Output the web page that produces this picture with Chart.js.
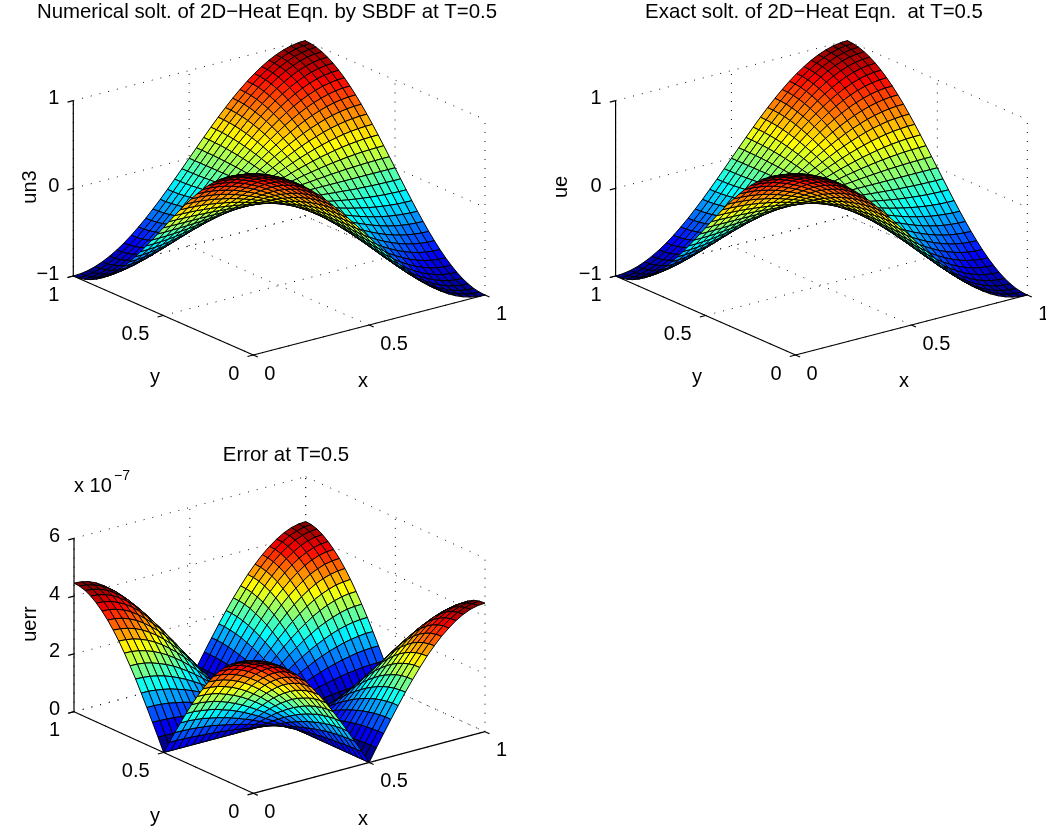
<!DOCTYPE html>
<html>
<head>
<meta charset="utf-8">
<title>2D Heat Eqn</title>
<script src="https://cdn.jsdelivr.net/npm/chart.js@4"></script>
<style>
  html, body { margin: 0; background: #fff; }
  canvas { position: absolute; }
</style>
</head>
<body>
<canvas id="plotNum" width="530" height="410" style="left:0;top:0"></canvas>
<canvas id="plotExact" width="516" height="410" style="left:530px;top:0"></canvas>
<canvas id="plotErr" width="530" height="417" style="left:0;top:410px"></canvas>
<script>
const meshX = [0,0.03125,0.0625,0.09375,0.125,0.15625,0.1875,0.21875,0.25,0.28125,0.3125,0.34375,0.375,0.40625,0.4375,0.46875,0.5,0.53125,0.5625,0.59375,0.625,0.65625,0.6875,0.71875,0.75,0.78125,0.8125,0.84375,0.875,0.90625,0.9375,0.96875,1];
const meshY = meshX;
const xyTicks = [0, 0.5, 1];
const xyTickText = ['0', '0.5', '1'];
const heatZTicks = [-1, 0, 1];
const heatZTickText = ['\u22121', '0', '1'];
const errZTicks = [0, 2, 4, 6];
const errZTickText = ['0', '2', '4', '6'];

// surface heights, in thousandths
const un3 = [
[1000,995,981,957,924,882,831,773,707,634,556,471,383,290,195,98,0,-98,-195,-290,-383,-471,-556,-634,-707,-773,-831,-882,-924,-957,-981,-995,-1000],
[995,990,976,952,919,878,827,769,704,631,553,469,381,289,194,98,0,-98,-194,-289,-381,-469,-553,-631,-704,-769,-827,-878,-919,-952,-976,-990,-995],
[981,976,962,939,906,865,815,758,694,622,545,462,375,285,191,96,0,-96,-191,-285,-375,-462,-545,-622,-694,-758,-815,-865,-906,-939,-962,-976,-981],
[957,952,939,916,884,844,796,740,677,607,532,451,366,278,187,94,0,-94,-187,-278,-366,-451,-532,-607,-677,-740,-796,-844,-884,-916,-939,-952,-957],
[924,919,906,884,854,815,768,714,653,586,513,436,354,268,180,91,0,-91,-180,-268,-354,-436,-513,-586,-653,-714,-768,-815,-854,-884,-906,-919,-924],
[882,878,865,844,815,778,733,682,624,559,490,416,337,256,172,86,0,-86,-172,-256,-337,-416,-490,-559,-624,-682,-733,-778,-815,-844,-865,-878,-882],
[831,827,815,796,768,733,691,643,588,527,462,392,318,241,162,82,0,-82,-162,-241,-318,-392,-462,-527,-588,-643,-691,-733,-768,-796,-815,-827,-831],
[773,769,758,740,714,682,643,598,547,490,429,364,296,224,151,76,0,-76,-151,-224,-296,-364,-429,-490,-547,-598,-643,-682,-714,-740,-758,-769,-773],
[707,704,694,677,653,624,588,547,500,449,393,333,271,205,138,69,0,-69,-138,-205,-271,-333,-393,-449,-500,-547,-588,-624,-653,-677,-694,-704,-707],
[634,631,622,607,586,559,527,490,449,402,352,299,243,184,124,62,0,-62,-124,-184,-243,-299,-352,-402,-449,-490,-527,-559,-586,-607,-622,-631,-634],
[556,553,545,532,513,490,462,429,393,352,309,262,213,161,108,54,0,-54,-108,-161,-213,-262,-309,-352,-393,-429,-462,-490,-513,-532,-545,-553,-556],
[471,469,462,451,436,416,392,364,333,299,262,222,180,137,92,46,0,-46,-92,-137,-180,-222,-262,-299,-333,-364,-392,-416,-436,-451,-462,-469,-471],
[383,381,375,366,354,337,318,296,271,243,213,180,146,111,75,38,0,-38,-75,-111,-146,-180,-213,-243,-271,-296,-318,-337,-354,-366,-375,-381,-383],
[290,289,285,278,268,256,241,224,205,184,161,137,111,84,57,28,0,-28,-57,-84,-111,-137,-161,-184,-205,-224,-241,-256,-268,-278,-285,-289,-290],
[195,194,191,187,180,172,162,151,138,124,108,92,75,57,38,19,0,-19,-38,-57,-75,-92,-108,-124,-138,-151,-162,-172,-180,-187,-191,-194,-195],
[98,98,96,94,91,86,82,76,69,62,54,46,38,28,19,10,0,-10,-19,-28,-38,-46,-54,-62,-69,-76,-82,-86,-91,-94,-96,-98,-98],
[0,0,0,0,0,0,0,0,0,0,0,0,0,0,0,0,0,0,0,0,0,0,0,0,0,0,0,0,0,0,0,0,0],
[-98,-98,-96,-94,-91,-86,-82,-76,-69,-62,-54,-46,-38,-28,-19,-10,0,10,19,28,38,46,54,62,69,76,82,86,91,94,96,98,98],
[-195,-194,-191,-187,-180,-172,-162,-151,-138,-124,-108,-92,-75,-57,-38,-19,0,19,38,57,75,92,108,124,138,151,162,172,180,187,191,194,195],
[-290,-289,-285,-278,-268,-256,-241,-224,-205,-184,-161,-137,-111,-84,-57,-28,0,28,57,84,111,137,161,184,205,224,241,256,268,278,285,289,290],
[-383,-381,-375,-366,-354,-337,-318,-296,-271,-243,-213,-180,-146,-111,-75,-38,0,38,75,111,146,180,213,243,271,296,318,337,354,366,375,381,383],
[-471,-469,-462,-451,-436,-416,-392,-364,-333,-299,-262,-222,-180,-137,-92,-46,0,46,92,137,180,222,262,299,333,364,392,416,436,451,462,469,471],
[-556,-553,-545,-532,-513,-490,-462,-429,-393,-352,-309,-262,-213,-161,-108,-54,0,54,108,161,213,262,309,352,393,429,462,490,513,532,545,553,556],
[-634,-631,-622,-607,-586,-559,-527,-490,-449,-402,-352,-299,-243,-184,-124,-62,0,62,124,184,243,299,352,402,449,490,527,559,586,607,622,631,634],
[-707,-704,-694,-677,-653,-624,-588,-547,-500,-449,-393,-333,-271,-205,-138,-69,0,69,138,205,271,333,393,449,500,547,588,624,653,677,694,704,707],
[-773,-769,-758,-740,-714,-682,-643,-598,-547,-490,-429,-364,-296,-224,-151,-76,0,76,151,224,296,364,429,490,547,598,643,682,714,740,758,769,773],
[-831,-827,-815,-796,-768,-733,-691,-643,-588,-527,-462,-392,-318,-241,-162,-82,0,82,162,241,318,392,462,527,588,643,691,733,768,796,815,827,831],
[-882,-878,-865,-844,-815,-778,-733,-682,-624,-559,-490,-416,-337,-256,-172,-86,0,86,172,256,337,416,490,559,624,682,733,778,815,844,865,878,882],
[-924,-919,-906,-884,-854,-815,-768,-714,-653,-586,-513,-436,-354,-268,-180,-91,0,91,180,268,354,436,513,586,653,714,768,815,854,884,906,919,924],
[-957,-952,-939,-916,-884,-844,-796,-740,-677,-607,-532,-451,-366,-278,-187,-94,0,94,187,278,366,451,532,607,677,740,796,844,884,916,939,952,957],
[-981,-976,-962,-939,-906,-865,-815,-758,-694,-622,-545,-462,-375,-285,-191,-96,0,96,191,285,375,462,545,622,694,758,815,865,906,939,962,976,981],
[-995,-990,-976,-952,-919,-878,-827,-769,-704,-631,-553,-469,-381,-289,-194,-98,0,98,194,289,381,469,553,631,704,769,827,878,919,952,976,990,995],
[-1000,-995,-981,-957,-924,-882,-831,-773,-707,-634,-556,-471,-383,-290,-195,-98,0,98,195,290,383,471,556,634,707,773,831,882,924,957,981,995,1000]
];
// the exact solution looks the same as the numerical one at this scale
const ue = un3;

// error surface, in units of 1e-9
const uerr = [
[445,443,437,426,411,392,370,344,315,282,247,210,170,129,87,44,0,44,87,129,170,210,247,282,315,344,370,392,411,426,437,443,445],
[443,441,434,424,409,391,368,342,313,281,246,209,170,129,86,44,0,44,86,129,170,209,246,281,313,342,368,391,409,424,434,441,443],
[437,434,428,418,403,385,363,337,309,277,243,206,167,127,85,43,0,43,85,127,167,206,243,277,309,337,363,385,403,418,428,434,437],
[426,424,418,408,393,376,354,329,301,270,237,201,163,124,83,42,0,42,83,124,163,201,237,270,301,329,354,376,393,408,418,424,426],
[411,409,403,393,380,363,342,318,291,261,228,194,158,119,80,40,0,40,80,119,158,194,228,261,291,318,342,363,380,393,403,409,411],
[392,391,385,376,363,346,326,303,278,249,218,185,150,114,77,38,0,38,77,114,150,185,218,249,278,303,326,346,363,376,385,391,392],
[370,368,363,354,342,326,307,286,262,235,206,174,142,107,72,36,0,36,72,107,142,174,206,235,262,286,307,326,342,354,363,368,370],
[344,342,337,329,318,303,286,266,243,218,191,162,132,100,67,34,0,34,67,100,132,162,191,218,243,266,286,303,318,329,337,342,344],
[315,313,309,301,291,278,262,243,223,200,175,148,121,91,61,31,0,31,61,91,121,148,175,200,223,243,262,278,291,301,309,313,315],
[282,281,277,270,261,249,235,218,200,179,157,133,108,82,55,28,0,28,55,82,108,133,157,179,200,218,235,249,261,270,277,281,282],
[247,246,243,237,228,218,206,191,175,157,138,117,95,72,48,24,0,24,48,72,95,117,138,157,175,191,206,218,228,237,243,246,247],
[210,209,206,201,194,185,174,162,148,133,117,99,80,61,41,20,0,20,41,61,80,99,117,133,148,162,174,185,194,201,206,209,210],
[170,170,167,163,158,150,142,132,121,108,95,80,65,49,33,17,0,17,33,49,65,80,95,108,121,132,142,150,158,163,167,170,170],
[129,129,127,124,119,114,107,100,91,82,72,61,49,37,25,12,0,12,25,37,49,61,72,82,91,100,107,114,119,124,127,129,129],
[87,86,85,83,80,77,72,67,61,55,48,41,33,25,17,8,0,8,17,25,33,41,48,55,61,67,72,77,80,83,85,86,87],
[44,44,43,42,40,38,36,34,31,28,24,20,17,12,8,4,0,4,8,12,17,20,24,28,31,34,36,38,40,42,43,44,44],
[0,0,0,0,0,0,0,0,0,0,0,0,0,0,0,0,0,0,0,0,0,0,0,0,0,0,0,0,0,0,0,0,0],
[44,44,43,42,40,38,36,34,31,28,24,20,17,12,8,4,0,4,8,12,17,20,24,28,31,34,36,38,40,42,43,44,44],
[87,86,85,83,80,77,72,67,61,55,48,41,33,25,17,8,0,8,17,25,33,41,48,55,61,67,72,77,80,83,85,86,87],
[129,129,127,124,119,114,107,100,91,82,72,61,49,37,25,12,0,12,25,37,49,61,72,82,91,100,107,114,119,124,127,129,129],
[170,170,167,163,158,150,142,132,121,108,95,80,65,49,33,17,0,17,33,49,65,80,95,108,121,132,142,150,158,163,167,170,170],
[210,209,206,201,194,185,174,162,148,133,117,99,80,61,41,20,0,20,41,61,80,99,117,133,148,162,174,185,194,201,206,209,210],
[247,246,243,237,228,218,206,191,175,157,138,117,95,72,48,24,0,24,48,72,95,117,138,157,175,191,206,218,228,237,243,246,247],
[282,281,277,270,261,249,235,218,200,179,157,133,108,82,55,28,0,28,55,82,108,133,157,179,200,218,235,249,261,270,277,281,282],
[315,313,309,301,291,278,262,243,223,200,175,148,121,91,61,31,0,31,61,91,121,148,175,200,223,243,262,278,291,301,309,313,315],
[344,342,337,329,318,303,286,266,243,218,191,162,132,100,67,34,0,34,67,100,132,162,191,218,243,266,286,303,318,329,337,342,344],
[370,368,363,354,342,326,307,286,262,235,206,174,142,107,72,36,0,36,72,107,142,174,206,235,262,286,307,326,342,354,363,368,370],
[392,391,385,376,363,346,326,303,278,249,218,185,150,114,77,38,0,38,77,114,150,185,218,249,278,303,326,346,363,376,385,391,392],
[411,409,403,393,380,363,342,318,291,261,228,194,158,119,80,40,0,40,80,119,158,194,228,261,291,318,342,363,380,393,403,409,411],
[426,424,418,408,393,376,354,329,301,270,237,201,163,124,83,42,0,42,83,124,163,201,237,270,301,329,354,376,393,408,418,424,426],
[437,434,428,418,403,385,363,337,309,277,243,206,167,127,85,43,0,43,85,127,167,206,243,277,309,337,363,385,403,418,428,434,437],
[443,441,434,424,409,391,368,342,313,281,246,209,170,129,86,44,0,44,86,129,170,209,246,281,313,342,368,391,409,424,434,441,443],
[445,443,437,426,411,392,370,344,315,282,247,210,170,129,87,44,0,44,87,129,170,210,247,282,315,344,370,392,411,426,437,443,445]
];

const FONT = '"Liberation Sans", Arial, sans-serif';
const TITLE_SIZE = 20.4;
const LABEL_SIZE = 20;

// jet colormap, 64 steps like the original figure
function jetColor(t) {
  const idx = Math.max(0, Math.min(63, Math.floor(t * 64)));
  const v = (idx + 1) / 64;
  const ch = c => Math.round(255 * Math.max(0, Math.min(1, 1.5 - Math.abs(4 * v - c))));
  return `rgb(${ch(3)},${ch(2)},${ch(1)})`;
}

// 3D box to page pixels; the chart scales below run in page pixels
function project(box, x, y, z) {
  return {
    x: box.front[0] + x * box.xVec[0] + y * box.yVec[0],
    y: box.front[1] + x * box.xVec[1] + y * box.yVec[1] - (z - box.zTicks[0]) * box.zScale
  };
}

function lineSet(points, dash, color, width) {
  return {
    data: points,
    showLine: true,
    fill: false,
    pointRadius: 0,
    borderColor: color,
    borderWidth: width,
    borderDash: dash
  };
}

function boxDatasets(box) {
  const zLo = box.zTicks[0];
  const zHi = box.zTicks[box.zTicks.length - 1];
  const sets = [];
  const p = (x, y, z) => project(box, x, y, z);
  const solid = (a, b) => sets.push(lineSet([a, b], [], '#000', 1.2));
  const dotted = (a, b) => sets.push(lineSet([a, b], [1, 8], '#111', 1));

  solid(p(0, 0, zLo), p(1, 0, zLo));
  solid(p(0, 0, zLo), p(0, 1, zLo));
  solid(p(0, 1, zLo), p(0, 1, zHi));
  xyTicks.forEach(t => {
    solid(p(t, 0, zLo), p(t, -0.025, zLo));
    solid(p(0, t, zLo), p(-0.025, t, zLo));
    dotted(p(t, 0, zLo), p(t, 1, zLo));
    dotted(p(0, t, zLo), p(1, t, zLo));
    dotted(p(t, 1, zLo), p(t, 1, zHi));
    dotted(p(1, t, zLo), p(1, t, zHi));
  });
  box.zTicks.forEach(t => {
    solid(p(0, 1, t), p(-0.025, 1, t));
    dotted(p(0, 1, t), p(1, 1, t));
    dotted(p(1, 1, t), p(1, 0, t));
  });
  return sets;
}

function surfaceDatasets(box) {
  const sets = [];
  const zAt = (i, j) => box.surface[j][i] * box.unit;
  // first dataset is painted last, so start at the front corner
  for (let j = 0; j < meshY.length - 1; j++) {
    for (let i = 0; i < meshX.length - 1; i++) {
      const corners = [[i, j], [i + 1, j], [i + 1, j + 1], [i, j + 1], [i, j]];
      sets.push({
        data: corners.map(c => project(box, meshX[c[0]], meshY[c[1]], zAt(c[0], c[1]))),
        showLine: true,
        fill: 'shape',
        pointRadius: 0,
        backgroundColor: jetColor((zAt(i, j) - box.cLim[0]) / (box.cLim[1] - box.cLim[0])),
        borderColor: '#000',
        borderWidth: 1
      });
    }
  }
  return sets;
}

function drawText(ctx, text, x, y, size, align, rotate) {
  ctx.save();
  ctx.translate(x, y);
  if (rotate) ctx.rotate(-Math.PI / 2);
  ctx.font = `${size}px ${FONT}`;
  ctx.fillStyle = '#000';
  ctx.textAlign = align;
  ctx.textBaseline = 'middle';
  ctx.fillText(text, 0, 0);
  ctx.restore();
}

function labelPlugin(box) {
  return {
    id: 'boxLabels',
    afterDraw(chart) {
      const ctx = chart.ctx;
      const sx = v => chart.scales.x.getPixelForValue(v);
      const sy = v => chart.scales.y.getPixelForValue(v);
      const zLo = box.zTicks[0];
      xyTicks.forEach((t, k) => {
        const a = project(box, t, 0, zLo);
        drawText(ctx, xyTickText[k], sx(a.x) + 11, sy(a.y) + 19, LABEL_SIZE, 'left');
        const b = project(box, 0, t, zLo);
        drawText(ctx, xyTickText[k], sx(b.x) - 14, sy(b.y) + 19, LABEL_SIZE, 'right');
      });
      box.zTicks.forEach((t, k) => {
        const c = project(box, 0, 1, t);
        drawText(ctx, box.zTickText[k], sx(c.x) - 14, sy(c.y) - 2, LABEL_SIZE, 'right');
      });
      drawText(ctx, box.title, sx(box.titleAt[0]), sy(box.titleAt[1]), TITLE_SIZE, 'center');
      drawText(ctx, 'x', sx(box.xLabelAt[0]), sy(box.xLabelAt[1]), LABEL_SIZE, 'center');
      drawText(ctx, 'y', sx(box.yLabelAt[0]), sy(box.yLabelAt[1]), LABEL_SIZE, 'center');
      drawText(ctx, box.zLabel, sx(box.zLabelAt[0]), sy(box.zLabelAt[1]), LABEL_SIZE, 'center', true);
      if (box.exponent) {
        drawText(ctx, 'x 10', sx(74), sy(486), LABEL_SIZE, 'left');
        drawText(ctx, '\u22127', sx(114), sy(476), 14, 'left');
      }
    }
  };
}

function drawPlot(canvasId, left, top, box) {
  const canvas = document.getElementById(canvasId);
  new Chart(canvas, {
    type: 'scatter',
    data: { datasets: surfaceDatasets(box).concat(boxDatasets(box)) },
    plugins: [labelPlugin(box)],
    options: {
      responsive: false,
      animation: false,
      parsing: false,
      events: [],
      layout: { padding: 0 },
      plugins: { legend: { display: false }, title: { display: false }, tooltip: { enabled: false } },
      scales: {
        x: { type: 'linear', display: false, min: left, max: left + canvas.width },
        y: { type: 'linear', display: false, reverse: true, min: top, max: top + canvas.height }
      }
    }
  });
}

drawPlot('plotNum', 0, 0, {
  front: [253.3, 355], xVec: [231.7, -60], yVec: [-180, -79],
  zTicks: heatZTicks, zTickText: heatZTickText, zScale: 87.7,
  surface: un3, unit: 0.001, cLim: [-1, 1],
  title: 'Numerical solt. of 2D\u2212Heat Eqn. by SBDF at T=0.5', titleAt: [267, 12],
  xLabelAt: [363, 381], yLabelAt: [155, 377], zLabel: 'un3', zLabelAt: [30, 187]
});
drawPlot('plotExact', 530, 0, {
  front: [795.6, 355], xVec: [231.7, -60], yVec: [-180, -79],
  zTicks: heatZTicks, zTickText: heatZTickText, zScale: 87.7,
  surface: ue, unit: 0.001, cLim: [-1, 1],
  title: 'Exact solt. of 2D\u2212Heat Eqn.  at T=0.5', titleAt: [814, 12],
  xLabelAt: [904, 381], yLabelAt: [697, 377], zLabel: 'ue', zLabelAt: [561, 187]
});
drawPlot('plotErr', 0, 410, {
  front: [253.3, 793.3], xVec: [231.7, -61.6], yVec: [-179.3, -81.6],
  zTicks: errZTicks, zTickText: errZTickText, zScale: 28.9,
  surface: uerr, unit: 0.01, cLim: [0, 4.45],
  title: 'Error at T=0.5', titleAt: [286, 455],
  xLabelAt: [363, 819], yLabelAt: [155, 816], zLabel: 'uerr', zLabelAt: [30, 624],
  exponent: true
});
</script>
</body>
</html>
